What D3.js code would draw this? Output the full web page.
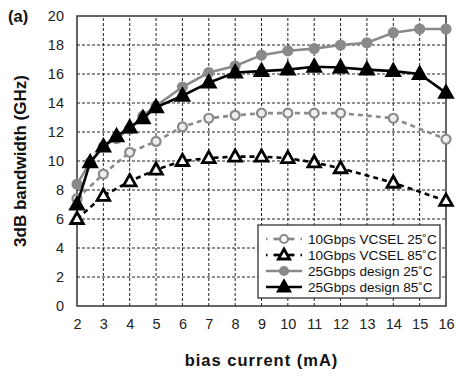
<!DOCTYPE html>
<html>
<head>
<meta charset="utf-8">
<script src="https://cdn.jsdelivr.net/npm/d3@7"></script>
<style>
  body { margin: 0; background: #fff; }
  svg { font-family: "Liberation Sans", Arial, sans-serif; }
</style>
</head>
<body>
<svg id="chart" width="457" height="376"></svg>
<script>
// data
const xTicks = [2, 3, 4, 5, 6, 7, 8, 9, 10, 11, 12, 13, 14, 15, 16];
const yTicks = [0, 2, 4, 6, 8, 10, 12, 14, 16, 18, 20];

const vcsel25x = [2, 3, 4, 5, 6, 7, 8, 9, 10, 11, 12, 14, 16];
const vcsel25y = [7.4, 9.1, 10.6, 11.35, 12.35, 12.95, 13.15, 13.3, 13.3, 13.3, 13.3, 12.95, 11.5];

const vcsel85x = [2, 3, 4, 5, 6, 7, 8, 9, 10, 11, 12, 14, 16];
const vcsel85y = [6.0, 7.6, 8.6, 9.4, 10.0, 10.2, 10.3, 10.3, 10.2, 9.9, 9.5, 8.5, 7.25];

const design25x = [2, 2.5, 3, 3.5, 4, 4.5, 5, 6, 7, 8, 9, 10, 11, 12, 13, 14, 15, 16];
const design25y = [8.4, 9.9, 11.0, 11.55, 12.2, 13.1, 13.8, 15.1, 16.1, 16.55, 17.3, 17.6, 17.75, 18.0, 18.15, 18.85, 19.1, 19.1];

const design85x = [2, 2.5, 3, 3.5, 4, 4.5, 5, 6, 7, 8, 9, 10, 11, 12, 13, 14, 15, 16];
const design85y = [7.0, 9.9, 11.0, 11.7, 12.3, 12.95, 13.7, 14.5, 15.4, 16.1, 16.2, 16.3, 16.5, 16.45, 16.3, 16.2, 16.0, 14.7];

const seriesNames = ["10Gbps VCSEL 25\u02daC", "10Gbps VCSEL 85\u02daC", "25Gbps design 25\u02daC", "25Gbps design 85\u02daC"];

const gray = "#8a8a8a";
const series = [
  { name: seriesNames[0], xs: vcsel25x, ys: vcsel25y, color: gray, dash: "5,4", marker: "circle", fill: "#eee" },
  { name: seriesNames[1], xs: vcsel85x, ys: vcsel85y, color: "#000", dash: "5,4", marker: "triangle", fill: "#fff" },
  { name: seriesNames[2], xs: design25x, ys: design25y, color: gray, dash: null, marker: "circle", fill: gray },
  { name: seriesNames[3], xs: design85x, ys: design85y, color: "#000", dash: null, marker: "triangle", fill: "#000" }
];

const svg = d3.select("#chart");
const margin = { left: 77, right: 11, top: 16, bottom: 70 };
const W = 457, H = 376;

const x = d3.scaleLinear().domain([2, 16]).range([margin.left, W - margin.right]);
const y = d3.scaleLinear().domain([0, 20]).range([H - margin.bottom, margin.top]);

const g = svg.append("g");

// grid
g.selectAll(".vgrid")
  .data(xTicks.slice(1, -1))
  .enter()
  .append("line")
  .attr("x1", d => x(d)).attr("x2", d => x(d))
  .attr("y1", y(0)).attr("y2", y(20))
  .attr("stroke", "#222").attr("stroke-width", 1).attr("stroke-dasharray", "3,2");

g.selectAll(".hgrid")
  .data(yTicks.slice(1, -1))
  .enter()
  .append("line")
  .attr("x1", x(2)).attr("x2", x(16))
  .attr("y1", d => y(d)).attr("y2", d => y(d))
  .attr("stroke", "#222").attr("stroke-width", 1).attr("stroke-dasharray", "3,2");

// frame
g.append("rect")
  .attr("x", x(2)).attr("y", y(20))
  .attr("width", x(16) - x(2)).attr("height", y(0) - y(20))
  .attr("fill", "none").attr("stroke", "#333").attr("stroke-width", 1.5);

// axes
const xAxis = d3.axisBottom(x).tickValues(xTicks).tickSize(0).tickPadding(13);
const yAxis = d3.axisLeft(y).tickValues(yTicks).tickSize(0).tickPadding(13);

g.append("g").attr("transform", `translate(0,${y(0)})`).call(xAxis)
  .call(a => a.select(".domain").remove())
  .selectAll("text").attr("font-size", 14.5).attr("fill", "#222")
  .attr("font-family", "Liberation Sans, Arial, sans-serif");

g.append("g").attr("transform", `translate(${x(2)},0)`).call(yAxis)
  .call(a => a.select(".domain").remove())
  .selectAll("text").attr("font-size", 14.5).attr("fill", "#222")
  .attr("font-family", "Liberation Sans, Arial, sans-serif");

// markers
function drawMarker(sel, type, color, fill, size) {
  if (type === "circle") {
    sel.append("circle").attr("r", size * 0.5)
      .attr("fill", fill).attr("stroke", color).attr("stroke-width", 2.2);
  } else {
    const s = size;
    sel.append("path")
      .attr("d", `M0,${-s * 0.75}L${s * 0.7},${s * 0.5}L${-s * 0.7},${s * 0.5}Z`)
      .attr("fill", fill).attr("stroke", color).attr("stroke-width", 2.8).attr("stroke-linejoin", "miter");
  }
}

const line = d3.line().x(d => x(d[0])).y(d => y(d[1]));

series.forEach(s => {
  const pts = s.xs.map((v, i) => [v, s.ys[i]]);
  g.append("path")
    .datum(pts)
    .attr("d", line)
    .attr("fill", "none")
    .attr("stroke", s.color)
    .attr("stroke-width", 2.6)
    .attr("stroke-dasharray", s.dash);

  g.selectAll(null)
    .data(pts)
    .enter()
    .append("g")
    .attr("transform", d => `translate(${x(d[0])},${y(d[1])})`)
    .each(function () { drawMarker(d3.select(this), s.marker, s.color, s.fill, 9); });
});

// legend
const lg = g.append("g").attr("transform", "translate(258,225)");
lg.append("rect").attr("width", 182).attr("height", 73)
  .attr("fill", "#fff").attr("stroke", "#222").attr("stroke-width", 1.2);

series.forEach((s, i) => {
  const row = lg.append("g").attr("transform", `translate(0,${14 + i * 16})`);
  row.append("line").attr("x1", 8).attr("x2", 44)
    .attr("stroke", s.color).attr("stroke-width", 2.6)
    .attr("stroke-dasharray", s.dash ? "3,6" : null)
    .attr("stroke-dashoffset", s.dash ? 1.5 : null);
  const m = row.append("g").attr("transform", "translate(26,0)");
  if (s.dash) {
    m.append("line").attr("x1", -9).attr("x2", 9).attr("stroke", s.color).attr("stroke-width", 2.6);
  }
  drawMarker(m, s.marker, s.color, s.marker === "circle" && s.dash ? "#fff" : s.fill, 8);
  row.append("text").attr("x", 50).attr("y", 5)
    .attr("font-size", 13.6).attr("fill", "#111").text(s.name);
});

// titles
svg.append("text").attr("x", 8).attr("y", 22)
  .attr("font-size", 16.5).attr("font-weight", "bold").attr("fill", "#111").text("(a)");

svg.append("text")
  .attr("transform", `translate(26,${(y(0) + y(20)) / 2}) rotate(-90)`)
  .attr("text-anchor", "middle")
  .attr("font-size", 17).attr("font-weight", "bold").attr("fill", "#111")
  .text("3dB bandwidth (GHz)");

svg.append("text")
  .attr("x", (x(2) + x(16)) / 2).attr("y", 366)
  .attr("text-anchor", "middle")
  .attr("font-size", 16.5).attr("letter-spacing", 1).attr("font-weight", "bold").attr("fill", "#111")
  .text("bias current (mA)");
</script>
</body>
</html>
